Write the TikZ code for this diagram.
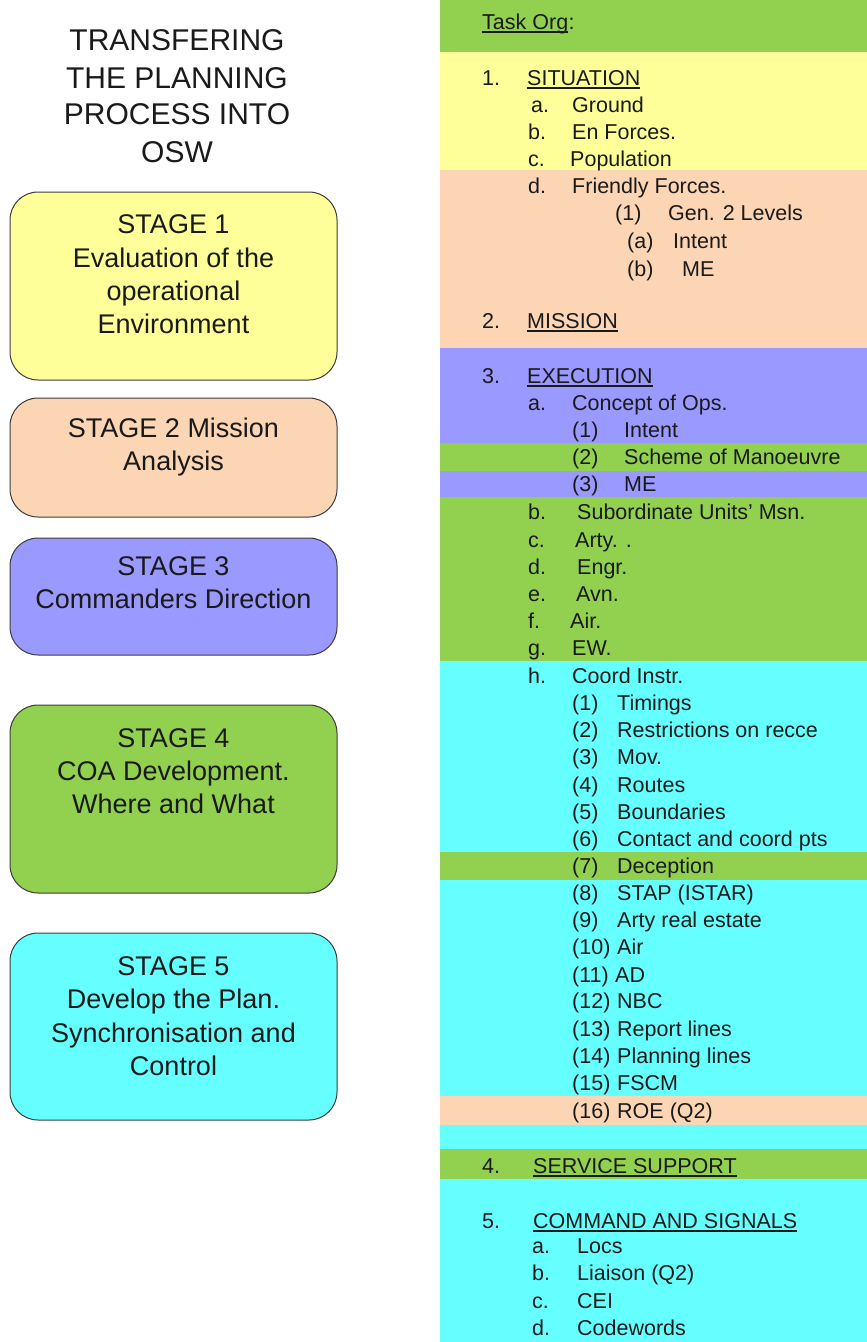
\documentclass[tikz,border=0pt]{standalone}
\usepackage{fontspec}
\setmainfont{Liberation Sans}
\definecolor{bgreen}{HTML}{92D050}
\definecolor{byellow}{HTML}{FFFF99}
\definecolor{bpeach}{HTML}{FCD5B5}
\definecolor{bpurple}{HTML}{9999FF}
\definecolor{bcyan}{HTML}{66FFFF}
\definecolor{ink}{HTML}{1A1A1A}
\definecolor{edge}{HTML}{3C3C3C}
\tikzset{
  band/.style={draw=none},
  stagebox/.style={draw=edge, line width=1pt, rounded corners=28pt, inner sep=0pt},
  ttl/.style={anchor=base, inner sep=0pt, text=ink, font=\fontsize{30}{36}\selectfont},
  stg/.style={anchor=base, inner sep=0pt, text=ink, font=\fontsize{27}{33}\selectfont},
  itm/.style={anchor=base west, inner sep=0pt, text=ink, font=\fontsize{21.5}{26}\selectfont},
  uline/.style={draw=ink, line width=1.3pt}
}
\begin{document}
\begin{tikzpicture}[x=1pt,y=-1pt]
\useasboundingbox (0,0) rectangle (867,1342);

% colour bands of the order sheet
\fill[bgreen]  (440,0)    rectangle (867,52);
\fill[byellow] (440,52)   rectangle (867,170);
\fill[bpeach]  (440,170)  rectangle (867,348);
\fill[bpurple] (440,348)  rectangle (867,443);
\fill[bgreen]  (440,443)  rectangle (867,471);
\fill[bpurple] (440,471)  rectangle (867,497);
\fill[bgreen]  (440,497)  rectangle (867,661);
\fill[bcyan]   (440,661)  rectangle (867,852);
\fill[bgreen]  (440,852)  rectangle (867,880);
\fill[bcyan]   (440,880)  rectangle (867,1096);
\fill[bpeach]  (440,1096) rectangle (867,1125);
\fill[bcyan]   (440,1125) rectangle (867,1149);
\fill[bgreen]  (440,1149) rectangle (867,1179);
\fill[bcyan]   (440,1179) rectangle (867,1342);

% title
\node[ttl] (ttl1) at (177,50)  {TRANSFERING};
\node[ttl] (ttl2) at (177,88)  {THE PLANNING};
\node[ttl] (ttl3) at (177,124) {PROCESS INTO};
\node[ttl] (ttl4) at (177,162) {OSW};

% planning stages
\node[stagebox, fill=byellow, minimum width=327pt, minimum height=188pt] (st1) at (173.5,286) {};
\node[stagebox, fill=bpeach,  minimum width=327pt, minimum height=119pt] (st2) at (173.5,457.5) {};
\node[stagebox, fill=bpurple, minimum width=327pt, minimum height=117pt] (st3) at (173.5,596.5) {};
\node[stagebox, fill=bgreen,  minimum width=327pt, minimum height=188pt] (st4) at (173.5,799) {};
\node[stagebox, fill=bcyan,   minimum width=327pt, minimum height=187pt] (st5) at (173.5,1026.5) {};

\foreach \yy/\tt [count=\i] in {233/STAGE 1, 267/Evaluation of the, 300/operational, 333/Environment}
  \node[stg] (st1l\i) at (173.5,\yy) {\tt};
\foreach \yy/\tt [count=\i] in {437/STAGE 2 Mission, 470/Analysis}
  \node[stg] (st2l\i) at (173.5,\yy) {\tt};
\foreach \yy/\tt [count=\i] in {575/STAGE 3, 608/Commanders Direction}
  \node[stg] (st3l\i) at (173.5,\yy) {\tt};
\foreach \yy/\tt [count=\i] in {747/STAGE 4, 780/COA Development., 813/Where and What}
  \node[stg] (st4l\i) at (173.5,\yy) {\tt};
\foreach \yy/\tt [count=\i] in {975/STAGE 5, 1008/Develop the Plan., 1042/Synchronisation and, 1075/Control}
  \node[stg] (st5l\i) at (173.5,\yy) {\tt};

% order headings
\node[itm] (torg) at (482,29) {Task Org};
\node[itm] (tcol) at (torg.base east) {:};
\node[itm] (n1) at (482,85)   {1.};   \node[itm] (sitn) at (527,85)   {SITUATION};
\node[itm] (n2) at (482,328)  {2.};   \node[itm] (msn)  at (527,328)  {MISSION};
\node[itm] (n3) at (482,383)  {3.};   \node[itm] (exe)  at (527,383)  {EXECUTION};
\node[itm] (n4) at (482,1173) {4.};   \node[itm] (svc)  at (533,1173) {SERVICE SUPPORT};
\node[itm] (n5) at (482,1228) {5.};   \node[itm] (cmd)  at (533,1228) {COMMAND AND SIGNALS};
\foreach \n in {torg,sitn,msn,exe,svc,cmd}
  \draw[uline] ([yshift=-3pt]\n.base west) -- ([yshift=-3pt]\n.base east);

% sub-paragraphs
\foreach \lx/\lb/\tx/\tt/\yy [count=\i] in {
  531/a./572/Ground/112,
  528/b./572/En Forces./139,
  528/c./570/Population/166,
  528/d./572/Friendly Forces./193,
  615/(1)/668/Gen. 2 Levels/220,
  627/(a)/673/Intent/248,
  627/(b)/682/ME/276,
  528/a./572/Concept of Ops./410,
  572/(1)/624/Intent/437,
  572/(2)/624/Scheme of Manoeuvre/464,
  572/(3)/624/ME/491,
  528/b./577/Subordinate Units’ Msn./519,
  528/c./575/Arty. ./547,
  528/d./577/Engr./574,
  528/e./576/Avn./601,
  528/f./570/Air./628,
  528/g./572/EW./655,
  528/h./572/Coord Instr./683,
  572/(1)/617/Timings/710,
  572/(2)/617/Restrictions on recce/737,
  572/(3)/617/Mov./764,
  572/(4)/617/Routes/792,
  572/(5)/617/Boundaries/819,
  572/(6)/617/Contact and coord pts/846,
  572/(7)/617/Deception/873,
  572/(8)/617/STAP (ISTAR)/900,
  572/(9)/617/Arty real estate/927,
  572/(10)/617/Air/954,
  572/(11)/615/AD/982,
  572/(12)/617/NBC/1008,
  572/(13)/617/Report lines/1036,
  572/(14)/617/Planning lines/1063,
  572/(15)/617/FSCM/1090,
  572/(16)/617/ROE (Q2)/1118,
  532/a./577/Locs/1253,
  532/b./577/Liaison (Q2)/1280,
  532/c./577/CEI/1308,
  532/d./577/Codewords/1335}
{
  \node[itm] (lab\i) at (\lx,\yy) {\lb};
  \node[itm] (txt\i) at (\tx,\yy) {\tt};
}
\end{tikzpicture}
\end{document}
